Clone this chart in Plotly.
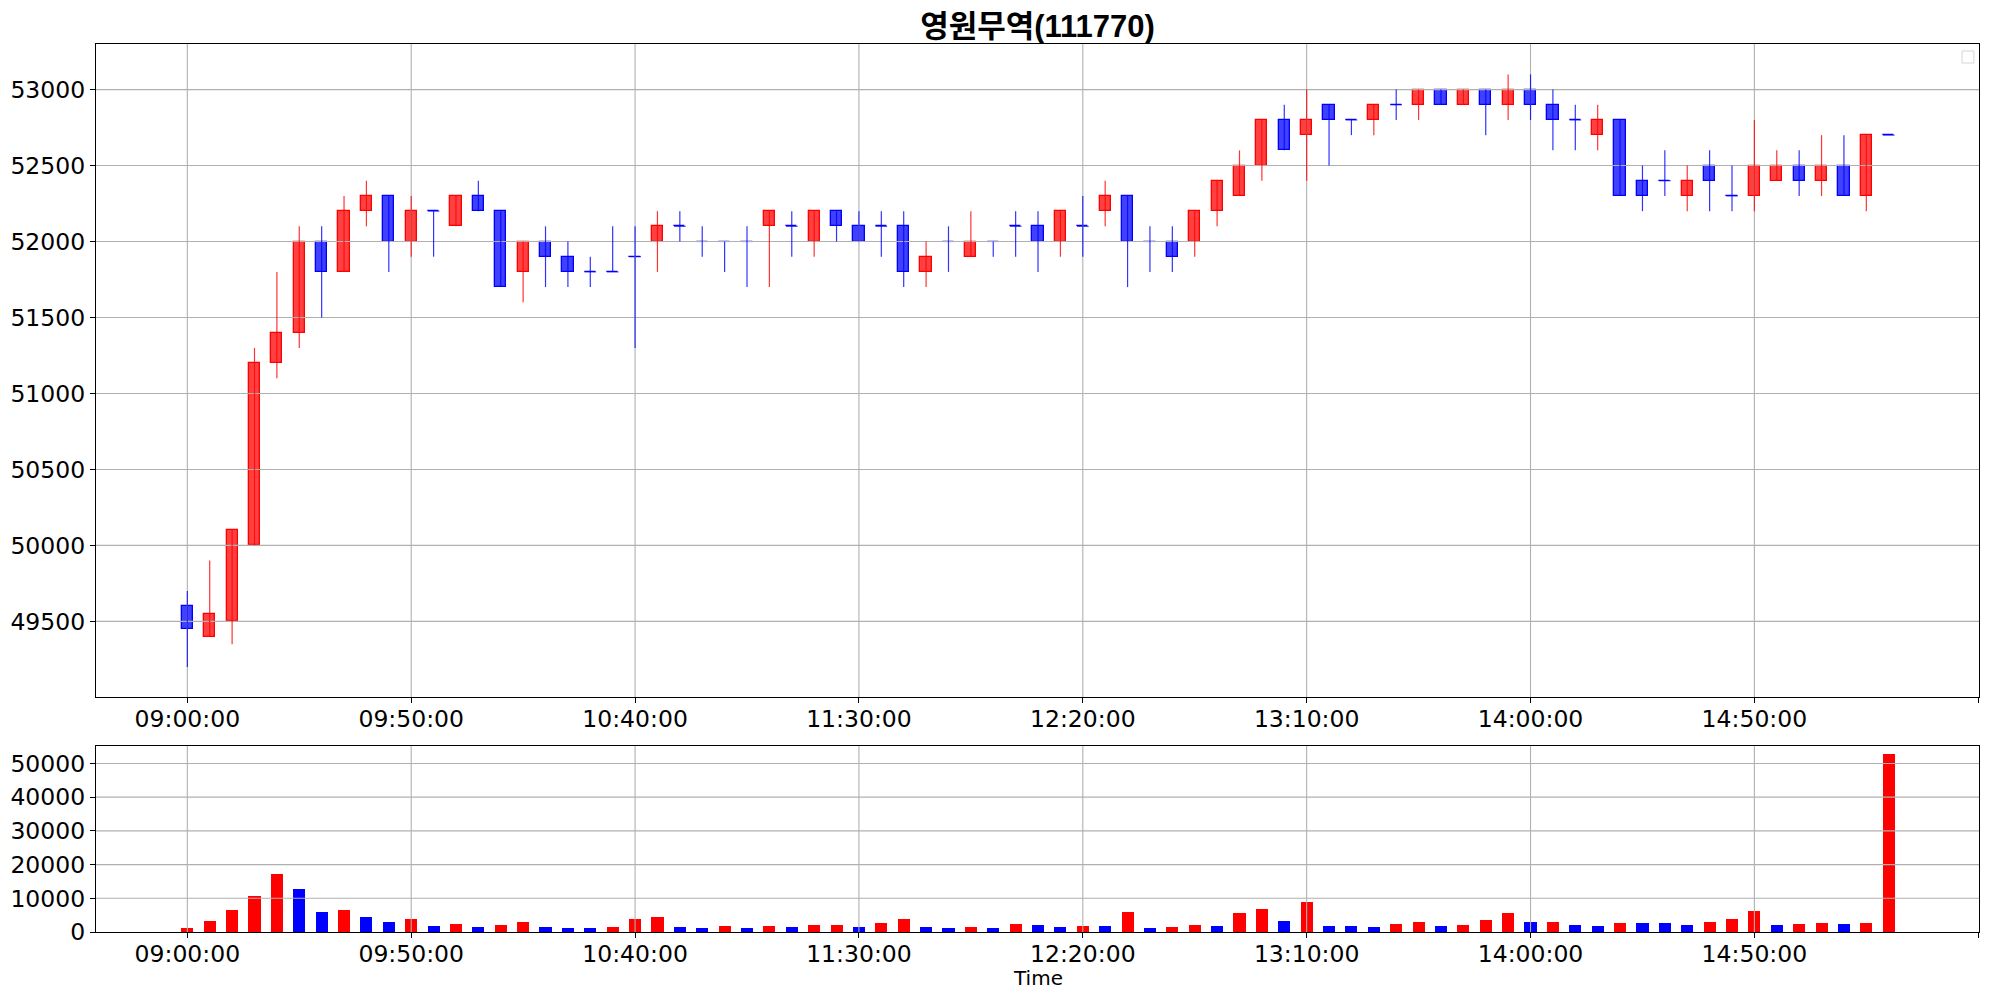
import pandas as pd
import plotly.graph_objects as go
from plotly.subplots import make_subplots

TITLE = "영원무역(111770)"
DAY = "2023-01-02"

# 5-minute candles 09:00 ~ 15:20
times = pd.date_range(f"{DAY} 09:00", periods=77, freq="5min")

opens = [49600, 49400, 49500, 50000, 51200, 51400, 52000, 51800, 52200, 52300,
         52000, 52200, 52100, 52300, 52200, 51800, 52000, 51900, 51800, 51800,
         51900, 52000, 52100, 52000, 52000, 52000, 52100, 52100, 52000, 52200,
         52100, 52100, 52100, 51800, 52000, 51900, 52000, 52100, 52100, 52000,
         52100, 52200, 52300, 52000, 52000, 52000, 52200, 52300, 52500, 52800,
         52700, 52900, 52800, 52800, 52900, 52900, 53000, 52900, 53000, 52900,
         53000, 52900, 52800, 52700, 52800, 52400, 52400, 52300, 52500, 52300,
         52300, 52400, 52500, 52400, 52500, 52300, 52700]
highs = [49700, 49900, 50100, 51300, 51800, 52100, 52100, 52300, 52400, 52300,
         52300, 52200, 52300, 52400, 52200, 52000, 52100, 52000, 51900, 52100,
         52100, 52200, 52200, 52100, 52000, 52100, 52200, 52200, 52200, 52200,
         52200, 52200, 52200, 52000, 52100, 52200, 52000, 52200, 52200, 52200,
         52300, 52400, 52300, 52100, 52100, 52200, 52400, 52600, 52800, 52900,
         53000, 52900, 52800, 52900, 53000, 53000, 53000, 53000, 53000, 53100,
         53100, 53000, 52900, 52900, 52800, 52500, 52600, 52500, 52600, 52500,
         52800, 52600, 52600, 52700, 52700, 52700, 52700]
lows = [49200, 49400, 49350, 50000, 51100, 51300, 51500, 51800, 52100, 51800,
        51900, 51900, 52100, 52200, 51700, 51600, 51700, 51700, 51700, 51800,
        51300, 51800, 52000, 51900, 51800, 51700, 51700, 51900, 51900, 52000,
        52000, 51900, 51700, 51700, 51800, 51900, 51900, 51900, 51800, 51900,
        51900, 52100, 51700, 51800, 51800, 51900, 52100, 52300, 52400, 52600,
        52400, 52500, 52700, 52700, 52800, 52800, 52900, 52900, 52700, 52800,
        52800, 52600, 52600, 52600, 52300, 52200, 52300, 52200, 52200, 52200,
        52200, 52400, 52300, 52300, 52300, 52200, 52700]
closes = [49450, 49550, 50100, 51200, 51400, 52000, 51800, 52200, 52300, 52000,
          52200, 52200, 52300, 52200, 51700, 52000, 51900, 51800, 51800, 51800,
          51900, 52100, 52100, 52000, 52000, 52000, 52200, 52100, 52200, 52100,
          52000, 52100, 51800, 51900, 52000, 52000, 52000, 52100, 52000, 52200,
          52100, 52300, 52000, 52000, 51900, 52200, 52400, 52500, 52800, 52600,
          52800, 52800, 52800, 52900, 52900, 53000, 52900, 53000, 52900, 53000,
          52900, 52800, 52800, 52800, 52300, 52300, 52400, 52400, 52400, 52300,
          52500, 52500, 52400, 52500, 52300, 52700, 52700]
volumes = [1200, 3300, 6600, 10700, 17300, 12800, 6000, 6600, 4500, 3000,
           3900, 1800, 2400, 1500, 2100, 3000, 1500, 1200, 1200, 1500,
           3900, 4500, 1500, 1200, 1800, 1200, 1800, 1500, 2100, 2100,
           1500, 2700, 3900, 1500, 1200, 1500, 1200, 2400, 2100, 1500,
           1800, 1800, 6000, 1200, 1500, 2100, 1800, 5700, 6900, 3300,
           9000, 1800, 1800, 1500, 2400, 3000, 1800, 2100, 3600, 5700,
           3000, 3000, 2100, 1800, 2700, 2700, 2700, 2100, 3000, 3900,
           6300, 2100, 2400, 2700, 2400, 2700, 52800]
# R = red bar, B = blue bar (volume panel)
vol_side = list("RRRRRBBRBBRBRBRRBBBRRRBBRB"
                "RBRRBRRBBRBRBBRBRBRRBRRBRBB"
                "BRRBRRRBRBBRBBBRRRBRRBRR")

price_ticks = list(range(49500, 53001, 500))
vol_ticks = [0, 10000, 20000, 30000, 40000, 50000]
time_ticks = ["09:00:00", "09:50:00", "10:40:00", "11:30:00", "12:20:00",
              "13:10:00", "14:00:00", "14:50:00", "15:40:00"]

RED = "#ff0000"
BLUE = "#0000ff"
GRID = "#b0b0b0"
BODY_W = 2.5 * 60 * 1000
VOL_W = 2.7 * 60 * 1000
HALF = pd.Timedelta(seconds=78)

PRICE_RANGE = [49002, 53300]
VOL_RANGE = [0, 55320]
xrange = [pd.Timestamp(f"{DAY} 08:39:36"), pd.Timestamp(f"{DAY} 15:40:10")]
tick_dt = [pd.Timestamp(f"{DAY} {t}") for t in time_ticks]
tick_txt = time_ticks[:-1] + [""]

df = pd.DataFrame({"t": times, "o": opens, "h": highs, "l": lows, "c": closes,
                   "v": volumes, "vs": vol_side})
df["up"] = df["c"] > df["o"]


def grid_trace(yticks, yrange):
    # grid as a line trace: sits above bars (patches) but below wicks, like matplotlib
    xs, ys = [], []
    for v in yticks:
        xs += [xrange[0], xrange[1], None]
        ys += [v, v, None]
    for t in tick_dt[:-1]:
        xs += [t, t, None]
        ys += [yrange[0], yrange[1], None]
    return go.Scatter(x=xs, y=ys, mode="lines", line=dict(color=GRID, width=1.1),
                      hoverinfo="skip", showlegend=False)


fig = make_subplots(rows=2, cols=1, shared_xaxes=False)

# bodies
fig.add_trace(go.Bar(
    x=df["t"], y=(df["c"] - df["o"]).abs(), base=df[["o", "c"]].min(axis=1),
    width=BODY_W,
    marker=dict(color=["rgba(255,0,0,0.75)" if u else "rgba(0,0,255,0.75)" for u in df["up"]],
                line=dict(color=[RED if u else BLUE for u in df["up"]], width=1.3)),
    showlegend=False), row=1, col=1)

# doji ticks (open == close)
dj = df[df["o"] == df["c"]]
xs, ys = [], []
for _, r in dj.iterrows():
    xs += [r["t"] - HALF, r["t"] + HALF, None]
    ys += [r["c"], r["c"], None]
fig.add_trace(go.Scatter(x=xs, y=ys, mode="lines", line=dict(color="rgba(0,0,255,0.8)", width=1.1),
                         hoverinfo="skip", showlegend=False), row=1, col=1)

fig.add_trace(grid_trace(price_ticks, PRICE_RANGE), row=1, col=1)

# wicks
for up, col in [(True, "rgba(255,0,0,0.8)"), (False, "rgba(0,0,255,0.8)")]:
    sub = df[df["up"] == up]
    xs, ys = [], []
    for _, r in sub.iterrows():
        xs += [r["t"], r["t"], None]
        ys += [r["l"], r["h"], None]
    fig.add_trace(go.Scatter(x=xs, y=ys, mode="lines", line=dict(color=col, width=1.2),
                             hoverinfo="skip", showlegend=False), row=1, col=1)

# volume
fig.add_trace(go.Bar(x=df["t"], y=df["v"], width=VOL_W,
                     marker=dict(color=[RED if s == "R" else BLUE for s in df["vs"]], line=dict(width=0)),
                     showlegend=False), row=2, col=1)
fig.add_trace(grid_trace(vol_ticks[1:], VOL_RANGE), row=2, col=1)

axis_common = dict(showline=True, linecolor="black", linewidth=1.3, mirror=True,
                   ticks="outside", ticklen=5, tickcolor="black", tickwidth=1.2,
                   showgrid=False, zeroline=False,
                   tickfont=dict(family="DejaVu Sans", size=23.5, color="black"))

for ax in ["xaxis", "xaxis2"]:
    fig.layout[ax].update(range=xrange, tickmode="array", tickvals=tick_dt, ticktext=tick_txt,
                          ticklabelstandoff=-4, **axis_common)
fig.layout.yaxis.update(range=PRICE_RANGE, tickmode="array", tickvals=price_ticks,
                        tickformat="d", domain=[0.2646, 1.0], **axis_common)
fig.layout.yaxis2.update(range=VOL_RANGE, tickmode="array", tickvals=vol_ticks,
                         tickformat="d", domain=[0.0, 0.210], **axis_common)

# x-axis title of the lower panel
fig.add_annotation(text="Time", xref="paper", yref="paper", x=0.5, y=-0.0514,
                   xanchor="center", yanchor="middle", showarrow=False,
                   font=dict(family="DejaVu Sans", size=20, color="black"))

# empty legend box (top right)
fig.add_shape(type="rect", xref="paper", yref="paper", x0=0.9910, x1=0.9973, y0=0.9786, y1=0.9921,
              line=dict(color="#d5d5d5", width=1), fillcolor="white", layer="above")

fig.update_layout(
    width=1989, height=999,
    margin=dict(l=96, r=10, t=44, b=67),
    paper_bgcolor="white", plot_bgcolor="white",
    bargap=0,
    title=dict(text=TITLE, x=0.5, xref="paper", xanchor="center", y=0.974, yanchor="middle",
               font=dict(family="Liberation Sans, Noto Sans CJK KR", size=31, color="black",
                         weight="bold")),
    showlegend=False,
)

fig.write_html("out.html", config={"displayModeBar": False},
               post_script="document.body.style.margin='0';")
